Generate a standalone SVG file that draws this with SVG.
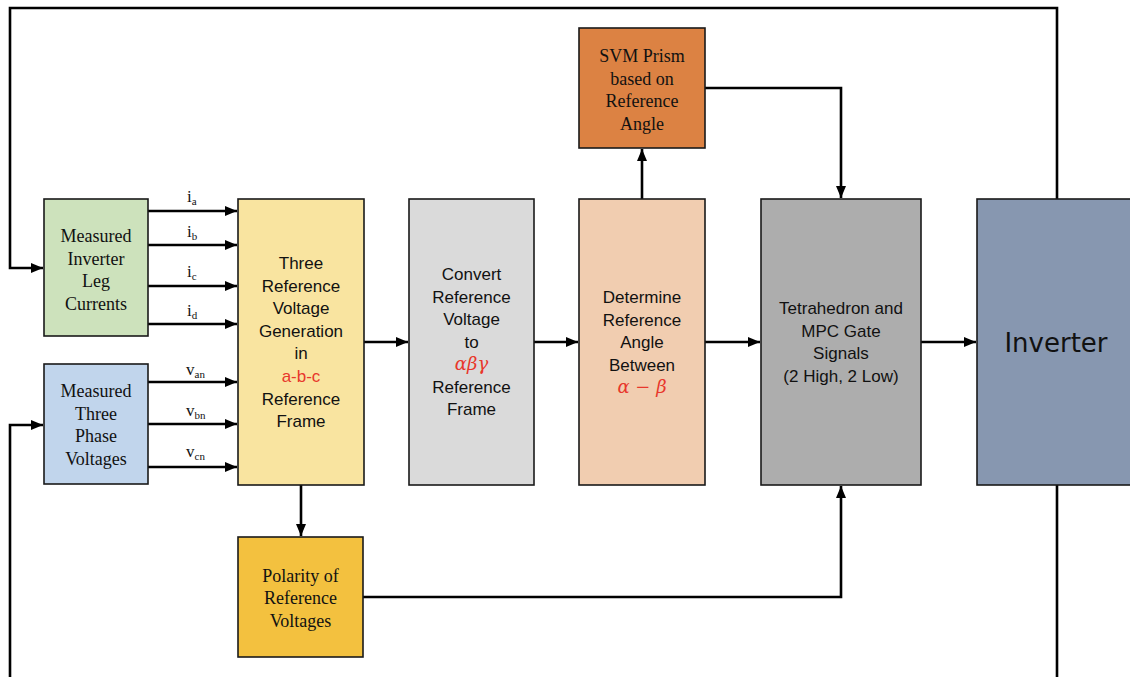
<svg xmlns="http://www.w3.org/2000/svg" width="1130" height="677" viewBox="0 0 1130 677">
<defs>
<marker id="arr" markerUnits="userSpaceOnUse" markerWidth="13" markerHeight="11" refX="12" refY="5" orient="auto">
<path d="M0,0 L12,5 L0,10 z" fill="#000"/>
</marker>
<style>
.box{stroke:#1a1a1a;stroke-width:1.6}
.serif{font-family:"Liberation Serif","Times New Roman",serif;font-size:18px;fill:#111;text-anchor:middle}
.sans{font-family:"Liberation Sans",Arial,sans-serif;font-size:17px;fill:#111;text-anchor:middle}
.red{fill:#e8372c}
.math{font-family:"DejaVu Serif","Liberation Serif",serif;font-style:italic;font-size:18px}
.lbl{font-family:"Liberation Serif","Times New Roman",serif;font-size:17px;fill:#111}
.sub{font-size:11px}
.con{fill:none;stroke:#000;stroke-width:2.6;marker-end:url(#arr)}
</style>
</defs>
<rect width="1130" height="677" fill="#fff"/>

<g id="connectors">
<path class="con" d="M1057,199 V8 H10 V268 H43"/>
<path class="con" d="M1057,485 V690 H10 V425 H43"/>
<path class="con" d="M148,211 H237"/>
<path class="con" d="M148,245 H237"/>
<path class="con" d="M148,286 H237"/>
<path class="con" d="M148,324 H237"/>
<path class="con" d="M148,382 H237"/>
<path class="con" d="M148,424 H237"/>
<path class="con" d="M148,467 H237"/>
<path class="con" d="M364,342 H408"/>
<path class="con" d="M534,342 H578"/>
<path class="con" d="M705,342 H760"/>
<path class="con" d="M921,342 H976"/>
<path class="con" d="M642,199 V149"/>
<path class="con" d="M705,88 H841 V198"/>
<path class="con" d="M301,485 V536"/>
<path class="con" d="M363,597 H841 V486"/>
<g id="labels">
<text class="lbl" x="187" y="202">i<tspan class="sub" dy="3">a</tspan></text>
<text class="lbl" x="187" y="237">i<tspan class="sub" dy="3">b</tspan></text>
<text class="lbl" x="187" y="277">i<tspan class="sub" dy="3">c</tspan></text>
<text class="lbl" x="187" y="316">i<tspan class="sub" dy="3">d</tspan></text>
<text class="lbl" x="186" y="375">v<tspan class="sub" dy="3">an</tspan></text>
<text class="lbl" x="186" y="416">v<tspan class="sub" dy="3">bn</tspan></text>
<text class="lbl" x="186" y="457">v<tspan class="sub" dy="3">cn</tspan></text>
</g>
</g>

<g id="currents">
<rect class="box" x="44" y="199" width="104" height="137" fill="#cde2bc"/>
<text class="serif" x="96" y="242">Measured</text>
<text class="serif" x="96" y="264.5">Inverter</text>
<text class="serif" x="96" y="287">Leg</text>
<text class="serif" x="96" y="309.5">Currents</text>
</g>

<g id="voltages">
<rect class="box" x="44" y="364" width="104" height="120" fill="#c1d5ec"/>
<text class="serif" x="96" y="397">Measured</text>
<text class="serif" x="96" y="419.5">Three</text>
<text class="serif" x="96" y="442">Phase</text>
<text class="serif" x="96" y="464.5">Voltages</text>
</g>

<g id="refgen">
<rect class="box" x="238" y="199" width="126" height="286" fill="#f9e4a0"/>
<text class="sans" x="301" y="269">Three</text>
<text class="sans" x="301" y="291.6">Reference</text>
<text class="sans" x="301" y="314.2">Voltage</text>
<text class="sans" x="301" y="336.8">Generation</text>
<text class="sans" x="301" y="359.4">in</text>
<text class="sans red" x="301" y="382">a-b-c</text>
<text class="sans" x="301" y="404.6">Reference</text>
<text class="sans" x="301" y="427.2">Frame</text>
</g>

<g id="convert">
<rect class="box" x="409" y="199" width="125" height="286" fill="#dadada"/>
<text class="sans" x="471.5" y="280">Convert</text>
<text class="sans" x="471.5" y="302.5">Reference</text>
<text class="sans" x="471.5" y="325">Voltage</text>
<text class="sans" x="471.5" y="347.5">to</text>
<text class="sans red math" x="471.5" y="370">αβγ</text>
<text class="sans" x="471.5" y="392.5">Reference</text>
<text class="sans" x="471.5" y="415">Frame</text>
</g>

<g id="angle">
<rect class="box" x="579" y="199" width="126" height="286" fill="#f1cdb0"/>
<text class="sans" x="642" y="303">Determine</text>
<text class="sans" x="642" y="325.5">Reference</text>
<text class="sans" x="642" y="348">Angle</text>
<text class="sans" x="642" y="370.5">Between</text>
<text class="sans red math" x="642" y="393">α − β</text>
</g>

<g id="svm">
<rect class="box" x="579" y="28" width="126" height="120" fill="#dc8243"/>
<text class="serif" x="642" y="62">SVM Prism</text>
<text class="serif" x="642" y="84.5">based on</text>
<text class="serif" x="642" y="107">Reference</text>
<text class="serif" x="642" y="129.5">Angle</text>
</g>

<g id="tetra">
<rect class="box" x="761" y="199" width="160" height="286" fill="#adadad"/>
<text class="sans" x="841" y="314">Tetrahedron and</text>
<text class="sans" x="841" y="336.5">MPC Gate</text>
<text class="sans" x="841" y="359">Signals</text>
<text class="sans" x="841" y="381.5">(2 High, 2 Low)</text>
</g>

<g id="polarity">
<rect class="box" x="238" y="537" width="125" height="120" fill="#f3c13f"/>
<text class="serif" x="300.5" y="582">Polarity of</text>
<text class="serif" x="300.5" y="604">Reference</text>
<text class="serif" x="300.5" y="626.5">Voltages</text>
</g>

<g id="inverter">
<rect class="box" x="977" y="199" width="170" height="286" fill="#8797b0"/>
<text x="1056" y="352" text-anchor="middle" font-family="'DejaVu Sans',Verdana,sans-serif" font-size="26" fill="#111">Inverter</text>
</g>
</svg>
